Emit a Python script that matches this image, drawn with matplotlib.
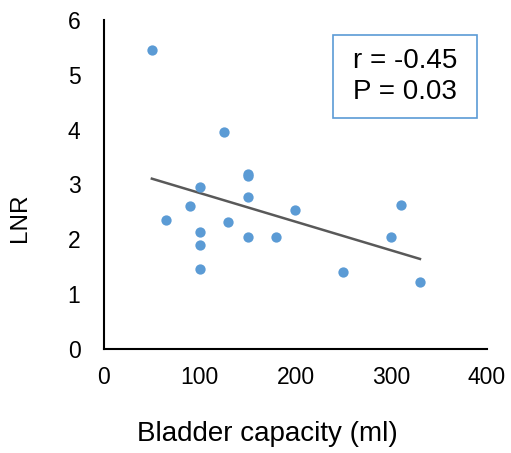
import numpy as np
import matplotlib.pyplot as plt
from matplotlib.patches import Rectangle

plt.rcParams['font.family'] = ['Liberation Sans', 'DejaVu Sans']

capacity = [50, 125, 150, 150, 100, 150, 90, 65, 100, 100, 100, 130, 150, 180, 200, 310, 300, 250, 330]
lnr = [5.45, 3.96, 3.2, 3.15, 2.95, 2.78, 2.6, 2.35, 2.13, 1.89, 1.45, 2.31, 2.05, 2.05, 2.53, 2.63, 2.04, 1.4, 1.22]
stats_text = "r = -0.45\nP = 0.03"

fig = plt.figure(figsize=(5.11, 4.53), dpi=100)
ax = fig.add_axes([0.2035, 0.2296, 0.7495, 0.7263])

ax.scatter(capacity, lnr, s=55, color='#5B9BD5', zorder=3, linewidths=0)

# linear trend line
slope, intercept = np.polyfit(capacity, lnr, 1)
xs = np.array([min(capacity), max(capacity)])
ax.plot(xs, slope * xs + intercept, color='#595959', lw=1.8, zorder=2)

ax.set_xlim(0, 400)
ax.set_ylim(0, 6)
ax.set_xticks([0, 100, 200, 300, 400])
ax.set_yticks([0, 1, 2, 3, 4, 5, 6])
ax.tick_params(length=0, labelsize=16.5)
ax.tick_params(axis='x', pad=12)
ax.tick_params(axis='y', pad=17)
for s in ['top', 'right']:
    ax.spines[s].set_visible(False)
for s in ['left', 'bottom']:
    ax.spines[s].set_linewidth(1.5)
    ax.spines[s].set_color('black')

ax.set_xlabel("Bladder capacity (ml)", fontsize=20)
ax.xaxis.set_label_coords(0.426, -0.218)
ax.set_ylabel("LNR", fontsize=17.5)
ax.yaxis.set_label_coords(-0.19, 0.40)

ax.add_patch(Rectangle((0.598, 0.702), 0.376, 0.252, transform=ax.transAxes,
                       facecolor='white', edgecolor='#5B9BD5', lw=1.2, zorder=4))
ax.text(0.786, 0.828, stats_text, transform=ax.transAxes, ha='center', va='center',
        fontsize=20, linespacing=1.22, zorder=5)

fig.savefig("out.png", dpi=100)
